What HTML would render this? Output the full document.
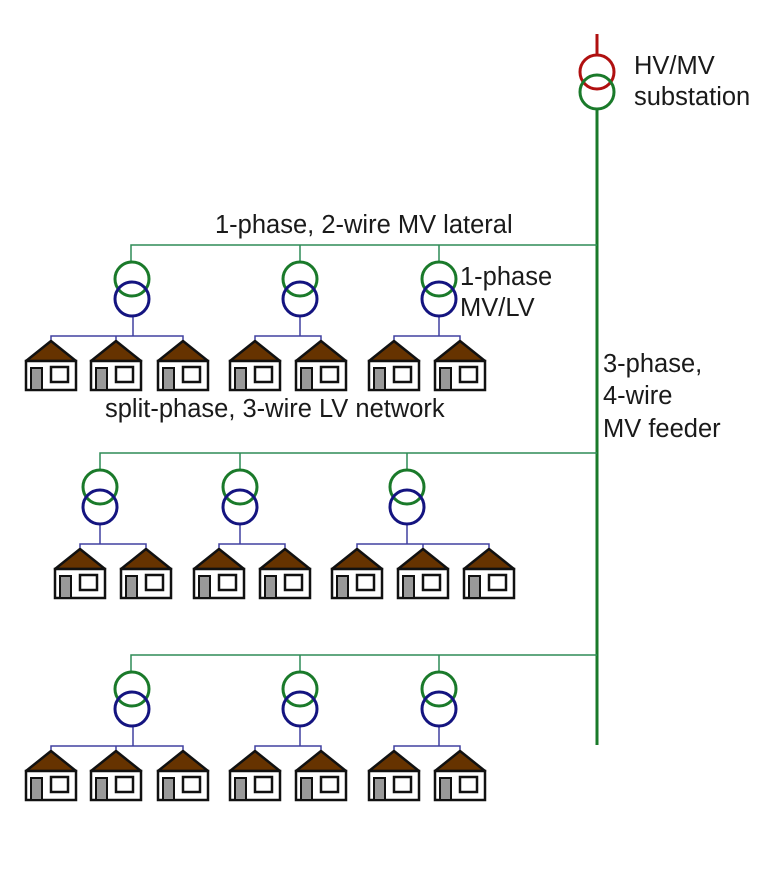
<!DOCTYPE html>
<html><head><meta charset="utf-8"><style>
html,body{margin:0;padding:0;background:#fff;}
svg{display:block;}
text{font-family:"Liberation Sans",sans-serif;font-size:25.5px;fill:#1a1a1a;}
</style></head><body>
<svg width="768" height="895" viewBox="0 0 768 895" xmlns="http://www.w3.org/2000/svg">
<defs>
<g id="h">
<polygon points="-25,20 0,0 25,20" fill="#663300" stroke="#111" stroke-width="2.5" stroke-linejoin="round"/>
<rect x="-25" y="20" width="50" height="29" fill="#fff" stroke="#111" stroke-width="2.5"/>
<rect x="-20" y="27" width="11" height="22" fill="#999" stroke="#111" stroke-width="2"/>
<rect x="0" y="26" width="17" height="15" fill="#fff" stroke="#111" stroke-width="2.5"/>
</g>
<g id="t">
<circle cx="0" cy="0" r="17" fill="none" stroke="#1a7a2a" stroke-width="3"/>
<circle cx="0" cy="20" r="17" fill="none" stroke="#141480" stroke-width="3"/>
</g>
</defs>
<line x1="597" y1="34" x2="597" y2="56" stroke="#b01010" stroke-width="3"/>
<circle cx="597" cy="72" r="17" fill="none" stroke="#b01010" stroke-width="3"/>
<circle cx="597" cy="92" r="17" fill="none" stroke="#1a7a2a" stroke-width="3"/>
<line x1="597" y1="109" x2="597" y2="745" stroke="#1a7a2a" stroke-width="3"/>
<text x="634" y="74">HV/MV</text>
<text x="634" y="105">substation</text>

<g stroke="#2e8b57" stroke-width="1.5" fill="none">
<polyline points="131,262 131,245 597,245"/>
<line x1="300" y1="245" x2="300" y2="262"/>
<line x1="439" y1="245" x2="439" y2="262"/>
<polyline points="100,471 100,453 597,453"/>
<line x1="240" y1="453" x2="240" y2="471"/>
<line x1="407" y1="453" x2="407" y2="471"/>
<polyline points="131,673 131,655 597,655"/>
<line x1="300" y1="655" x2="300" y2="673"/>
<line x1="439" y1="655" x2="439" y2="673"/>
</g>
<g stroke="#4040a0" stroke-width="1.5" fill="none">
<line x1="133" y1="316" x2="133" y2="336"/><polyline points="51,341 51,336 183,336 183,341"/><line x1="116" y1="336" x2="116" y2="341"/>
<line x1="300" y1="316" x2="300" y2="336"/><polyline points="255,341 255,336 321,336 321,341"/>
<line x1="439" y1="316" x2="439" y2="336"/><polyline points="394,341 394,336 460,336 460,341"/>
<line x1="100" y1="524" x2="100" y2="544"/><polyline points="80,549 80,544 146,544 146,549"/>
<line x1="240" y1="524" x2="240" y2="544"/><polyline points="219,549 219,544 285,544 285,549"/>
<line x1="407" y1="524" x2="407" y2="544"/><polyline points="357,549 357,544 489,544 489,549"/><line x1="423" y1="544" x2="423" y2="549"/>
<line x1="133" y1="726" x2="133" y2="746"/><polyline points="51,751 51,746 183,746 183,751"/><line x1="116" y1="746" x2="116" y2="751"/>
<line x1="300" y1="726" x2="300" y2="746"/><polyline points="255,751 255,746 321,746 321,751"/>
<line x1="439" y1="726" x2="439" y2="746"/><polyline points="394,751 394,746 460,746 460,751"/>
</g>
<use href="#t" x="132" y="279"/><use href="#t" x="300" y="279"/><use href="#t" x="439" y="279"/>
<use href="#t" x="100" y="487"/><use href="#t" x="240" y="487"/><use href="#t" x="407" y="487"/>
<use href="#t" x="132" y="689"/><use href="#t" x="300" y="689"/><use href="#t" x="439" y="689"/>

<use href="#h" x="51" y="341"/><use href="#h" x="116" y="341"/><use href="#h" x="183" y="341"/>
<use href="#h" x="255" y="341"/><use href="#h" x="321" y="341"/>
<use href="#h" x="394" y="341"/><use href="#h" x="460" y="341"/>
<use href="#h" x="80" y="549"/><use href="#h" x="146" y="549"/>
<use href="#h" x="219" y="549"/><use href="#h" x="285" y="549"/>
<use href="#h" x="357" y="549"/><use href="#h" x="423" y="549"/><use href="#h" x="489" y="549"/>
<use href="#h" x="51" y="751"/><use href="#h" x="116" y="751"/><use href="#h" x="183" y="751"/>
<use href="#h" x="255" y="751"/><use href="#h" x="321" y="751"/>
<use href="#h" x="394" y="751"/><use href="#h" x="460" y="751"/>

<text x="215" y="233">1-phase, 2-wire MV lateral</text>
<text x="460" y="285">1-phase</text>
<text x="460" y="316">MV/LV</text>
<text x="105" y="417">split-phase, 3-wire LV network</text>
<text x="603" y="372">3-phase,</text>
<text x="603" y="404">4-wire</text>
<text x="603" y="437">MV feeder</text>
</svg>
</body></html>
